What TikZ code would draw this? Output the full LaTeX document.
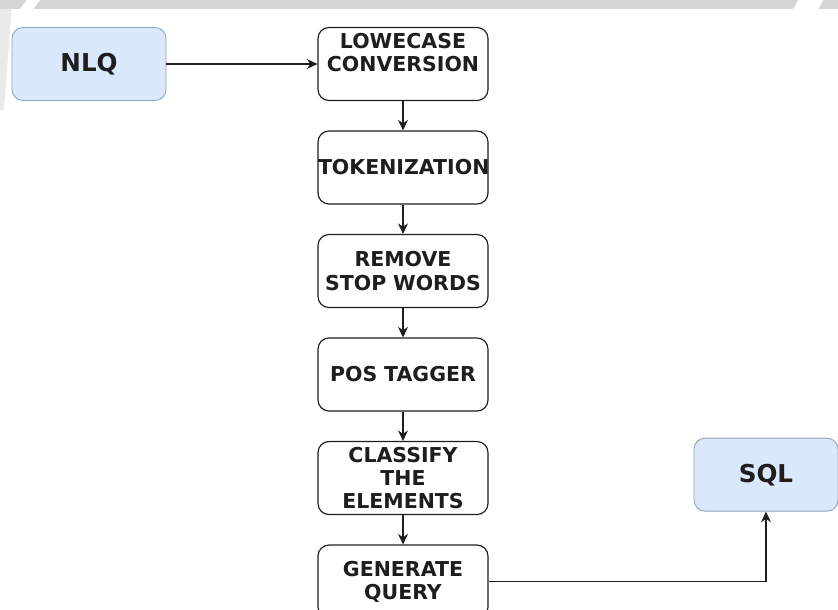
\documentclass[tikz,border=0pt]{standalone}
\usepackage{fontspec}
\setmainfont{DejaVu Sans}
\usetikzlibrary{positioning,arrows.meta}
\definecolor{ioblue}{HTML}{DAE8FC}
\definecolor{ioline}{HTML}{93A6BA}
\definecolor{bandgray}{HTML}{D5D5D5}
\definecolor{inkgray}{HTML}{1E1E1E}
\begin{document}
\begin{tikzpicture}[
    stage/.style={draw=inkgray, line width=1pt, rounded corners=0.33cm, fill=white,
      minimum width=5.1cm, minimum height=2.19cm, text width=5.1cm, align=center,
      inner sep=0pt, font=\fontsize{17.5}{19.8}\selectfont\bfseries, text=inkgray},
    endpoint/.style={draw=ioline, line width=0.8pt, rounded corners=0.33cm, fill=ioblue,
      minimum height=2.19cm, inner sep=0pt,
      font=\fontsize{21}{25}\selectfont\bfseries, text=inkgray},
    flow/.style={draw=inkgray, line width=1pt, -{Stealth[length=9pt,width=8.5pt]}},
    node distance=0.88cm]
  \useasboundingbox (0,0) rectangle (25.14,-18.3);
  \fill[bandgray] (0,0) rectangle (25.14,-0.27);
  \fill[white] (0.8,0) -- (1.2,0) -- (1.0,-0.27) -- (0.6,-0.27) -- cycle;
  \fill[white] (23.95,0) -- (24.7,0) -- (24.55,-0.27) -- (23.8,-0.27) -- cycle;
  \fill[bandgray!50] (0,-0.27) -- (0.35,-0.27) -- (0.12,-3.3) -- (0,-3.3) -- cycle;

  \node[endpoint, minimum width=4.62cm] (nlq) at (2.67,-1.92) {NLQ};
  \node[stage] (lowercase) at (12.09,-1.92) {LOWECASE\\CONVERSION\\ \mbox{}};
  \node[stage, below=of lowercase] (tokenize) {TOKENIZATION};
  \node[stage, below=of tokenize] (stopwords) {REMOVE\\STOP WORDS};
  \node[stage, below=of stopwords] (postag) {POS TAGGER};
  \node[stage, below=of postag] (classify) {CLASSIFY\\THE\\ELEMENTS};
  \node[stage, below=of classify] (genquery) {GENERATE\\QUERY};
  \node[endpoint, minimum width=4.32cm] (sql) at (22.98,-14.24) {SQL};

  \draw[flow] (nlq) -- (lowercase);
  \draw[flow] (lowercase) -- (tokenize);
  \draw[flow] (tokenize) -- (stopwords);
  \draw[flow] (stopwords) -- (postag);
  \draw[flow] (postag) -- (classify);
  \draw[flow] (classify) -- (genquery);
  \draw[flow] (genquery.east) -| (sql.south);
\end{tikzpicture}
\end{document}
